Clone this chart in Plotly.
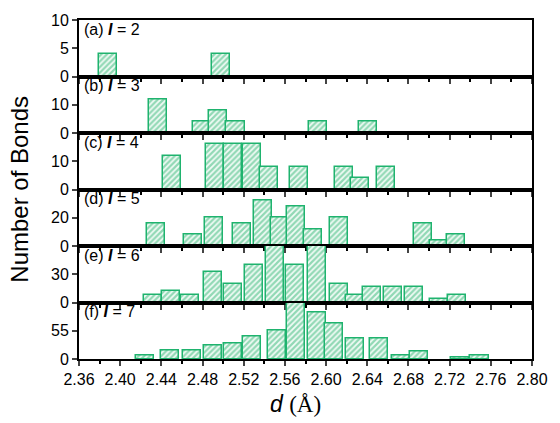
import plotly.graph_objects as go
from plotly.subplots import make_subplots

# Bond-length histograms for coordination I = 2..7
d_a = [2.388, 2.498]
n_a = [4, 4]

d_b = [2.437, 2.479, 2.495, 2.512, 2.592, 2.641]
n_b = [12, 4, 8, 4, 4, 4]

d_c = [2.450, 2.492, 2.510, 2.528, 2.545, 2.574, 2.617, 2.633, 2.658]
n_c = [12, 16, 16, 16, 8, 8, 8, 4, 8]

d_d = [2.435, 2.471, 2.491, 2.518, 2.539, 2.555, 2.571, 2.587, 2.613, 2.694, 2.710, 2.726]
n_d = [16, 8, 20, 16, 32, 20, 28, 12, 20, 16, 4, 8]

d_e = [2.432, 2.449, 2.468, 2.490, 2.510, 2.530, 2.550, 2.570, 2.591, 2.613, 2.628,
       2.645, 2.665, 2.685, 2.710, 2.727]
n_e = [8, 12, 8, 32, 20, 40, 62, 40, 62, 20, 8, 16, 16, 16, 4, 8]

d_f = [2.424, 2.448, 2.470, 2.490, 2.510, 2.528, 2.552, 2.571, 2.591, 2.608, 2.628,
       2.651, 2.673, 2.690, 2.730, 2.749]
n_f = [6, 16, 16, 27, 30, 43, 55, 115, 91, 70, 39, 39, 6, 15, 2, 6]

panels = [
    ("a", 2, d_a, n_a, [0, 10], [0, 5, 10]),
    ("b", 3, d_b, n_b, [0, 20], [0, 10]),
    ("c", 4, d_c, n_c, [0, 20], [0, 10]),
    ("d", 5, d_d, n_d, [0, 40], [0, 20]),
    ("e", 6, d_e, n_e, [0, 60], [0, 30]),
    ("f", 7, d_f, n_f, [0, 110], [0, 55]),
]

x_ticks = [2.36, 2.40, 2.44, 2.48, 2.52, 2.56, 2.60, 2.64, 2.68, 2.72, 2.76, 2.80]

GREEN = "#1fb36e"
FONT = "Liberation Sans, Arial, sans-serif"

fig = make_subplots(rows=6, cols=1, shared_xaxes=True, vertical_spacing=0)

for i, (lab, I, xs, ys, rng, tv) in enumerate(panels, start=1):
    fig.add_trace(go.Bar(
        x=xs, y=ys, width=0.0175,
        marker=dict(color="#ffffff",
                    line=dict(color=GREEN, width=1.5),
                    pattern=dict(shape="/", fgcolor="#30b673", bgcolor="#f2fbf6",
                                 size=4, solidity=0.55)),
        showlegend=False, hoverinfo="skip"), row=i, col=1)
    fig.update_yaxes(range=rng, tickvals=tv, ticks="outside", ticklen=5, tickwidth=2,
                     showline=True, linewidth=2, linecolor="black", mirror=True,
                     showgrid=False, zeroline=False,
                     tickfont=dict(family=FONT, size=16, color="black"),
                     row=i, col=1)
    fig.update_xaxes(range=[2.36, 2.80], tickvals=x_ticks, ticks="outside",
                     ticklen=5, tickwidth=2,
                     minor=dict(dtick=0.02, tick0=2.36, ticks="outside", ticklen=3,
                                tickwidth=2, tickcolor="black", showgrid=False),
                     showline=True, linewidth=2, linecolor="black", mirror=True,
                     showgrid=False, zeroline=False,
                     showticklabels=(i == 6), tickformat=".2f",
                     tickfont=dict(family=FONT, size=16, color="black"),
                     row=i, col=1)
    xr = "x domain" if i == 1 else f"x{i} domain"
    yr = "y domain" if i == 1 else f"y{i} domain"
    fig.add_annotation(text=f"({lab}) <b><i>I</i></b> = {I}", xref=xr, yref=yr,
                       x=0.006, y=1.02, xanchor="left", yanchor="top",
                       showarrow=False, font=dict(family=FONT, size=16, color="black"))

fig.add_annotation(text="Number of Bonds", xref="paper", yref="paper",
                   x=-0.132, y=0.5, textangle=-90, showarrow=False,
                   xanchor="center", yanchor="middle",
                   font=dict(family=FONT, size=24, color="black"))
fig.add_annotation(text="<i>d</i> <span style=\"font-family:'Liberation Serif', 'Times New Roman', serif\">(Å)</span>",
                   xref="paper", yref="paper", x=0.478, y=-0.134,
                   showarrow=False, xanchor="center", yanchor="middle",
                   font=dict(family=FONT, size=23, color="black"))

fig.update_layout(width=560, height=423, bargap=0,
                  margin=dict(l=79, r=19, t=19, b=64),
                  plot_bgcolor="white", paper_bgcolor="white")

# remove the default page margin so the figure sits at the window's top-left corner
fig.write_html("out.html", config={"displayModeBar": False},
               post_script="document.body.style.margin='0';")
